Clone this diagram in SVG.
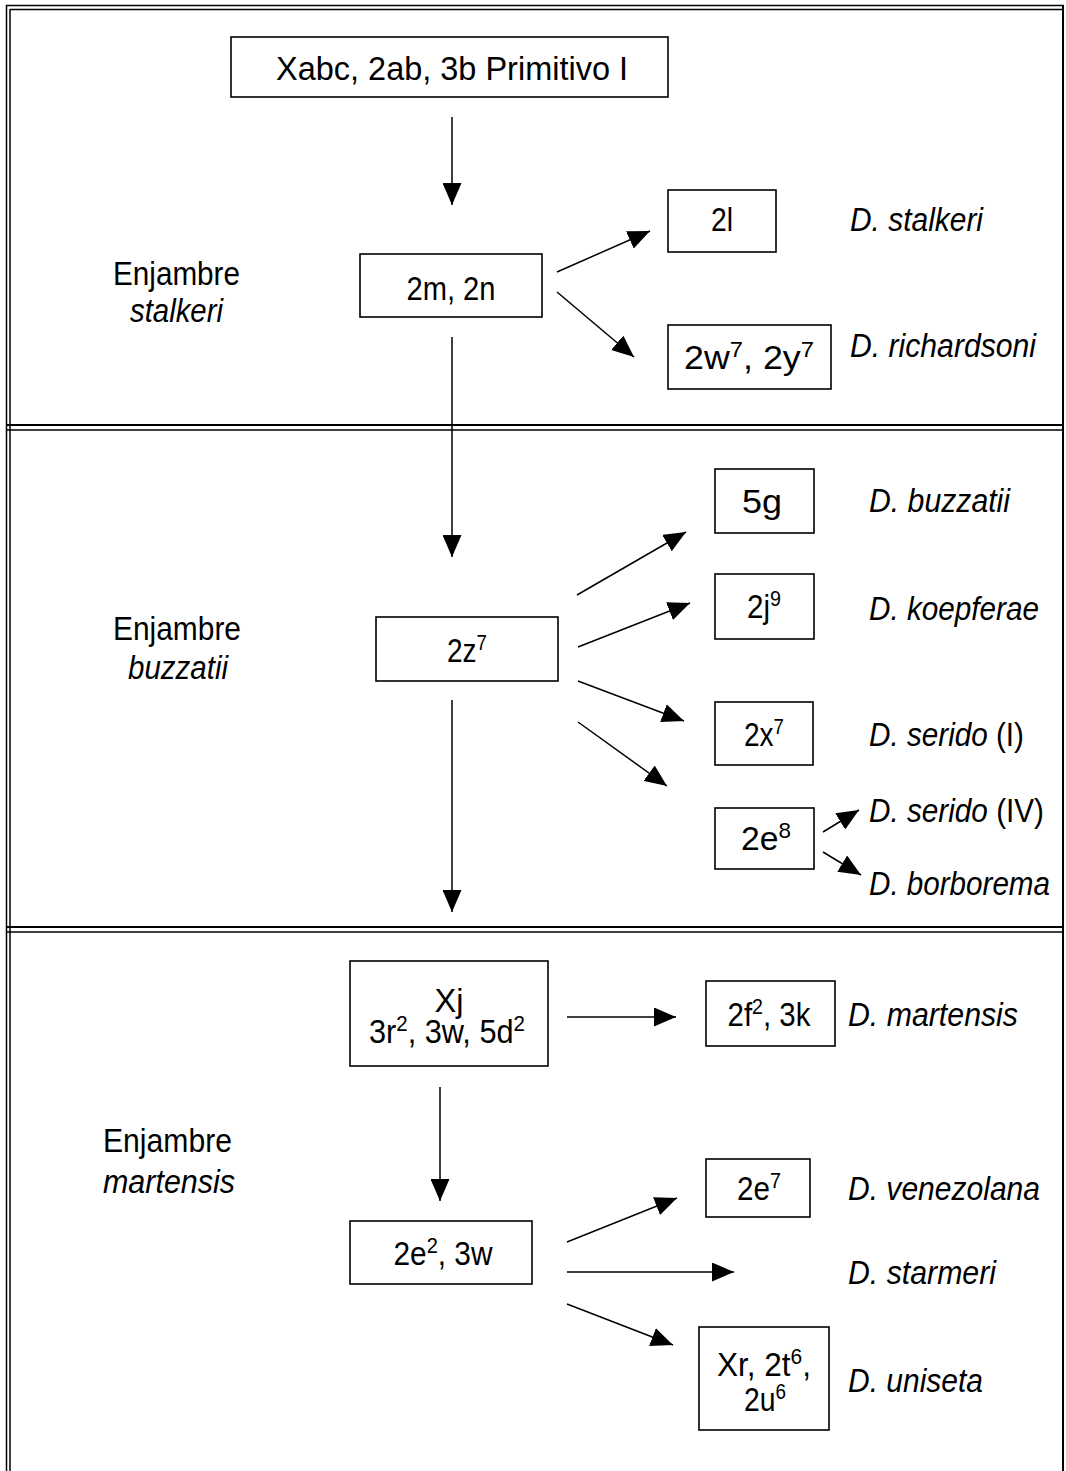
<svg xmlns="http://www.w3.org/2000/svg" width="1066" height="1471" viewBox="0 0 1066 1471">
<style>
text{font-family:"Liberation Sans",Arial,sans-serif;font-size:33px;fill:#000;}
.i{font-style:italic;}
.box{fill:#fff;stroke:#000;stroke-width:1.6;}
.c{stroke:#000;stroke-width:1.5;fill:none;}
.fr{stroke:#000;fill:none;}
.sup{font-size:22px;}
</style>
<defs>
<marker id="ah" markerUnits="userSpaceOnUse" markerWidth="22" markerHeight="19" refX="22" refY="9.5" orient="auto" viewBox="0 0 22 19">
<path d="M0,0 L22,9.5 L0,19 z" fill="#000"/>
</marker>
</defs>
<rect width="1066" height="1471" fill="#fff"/>
<g id="frame">
<line class="fr" x1="6.5" y1="5" x2="6.5" y2="1471" stroke-width="1.5"/>
<line class="fr" x1="10" y1="9" x2="10" y2="1471" stroke-width="1.5"/>
<line class="fr" x1="6" y1="5.5" x2="1064" y2="5.5" stroke-width="1.5"/>
<line class="fr" x1="10" y1="9.5" x2="1062" y2="9.5" stroke-width="1.5"/>
<line class="fr" x1="1063" y1="5" x2="1063" y2="1471" stroke-width="2"/>
<line class="fr" x1="6" y1="425" x2="1064" y2="425" stroke-width="2"/>
<line class="fr" x1="6" y1="430" x2="1064" y2="430" stroke-width="1.5"/>
<line class="fr" x1="6" y1="927" x2="1064" y2="927" stroke-width="2"/>
<line class="fr" x1="6" y1="932" x2="1064" y2="932" stroke-width="1.5"/>
</g>
<g id="connectors">
<line class="c" x1="452" y1="117" x2="452" y2="205" marker-end="url(#ah)"/>
<line class="c" x1="557" y1="272" x2="650" y2="231" marker-end="url(#ah)"/>
<line class="c" x1="557" y1="292" x2="634" y2="357" marker-end="url(#ah)"/>
<line class="c" x1="452" y1="337" x2="452" y2="557" marker-end="url(#ah)"/>
<line class="c" x1="577" y1="595" x2="686" y2="532" marker-end="url(#ah)"/>
<line class="c" x1="578" y1="647" x2="690" y2="603" marker-end="url(#ah)"/>
<line class="c" x1="578" y1="681" x2="684" y2="721" marker-end="url(#ah)"/>
<line class="c" x1="578" y1="722" x2="667" y2="786" marker-end="url(#ah)"/>
<line class="c" x1="823" y1="832" x2="859" y2="810" marker-end="url(#ah)"/>
<line class="c" x1="823" y1="852" x2="861" y2="875" marker-end="url(#ah)"/>
<line class="c" x1="452" y1="700" x2="452" y2="912" marker-end="url(#ah)"/>
<line class="c" x1="567" y1="1017" x2="676" y2="1017" marker-end="url(#ah)"/>
<line class="c" x1="440" y1="1087" x2="440" y2="1201" marker-end="url(#ah)"/>
<line class="c" x1="567" y1="1242" x2="677" y2="1198" marker-end="url(#ah)"/>
<line class="c" x1="567" y1="1272" x2="734" y2="1272" marker-end="url(#ah)"/>
<line class="c" x1="567" y1="1304" x2="673" y2="1345" marker-end="url(#ah)"/>
</g>
<g id="n-primitivo"><rect class="box" x="231" y="37" width="437" height="60"/><text x="452" y="80" text-anchor="middle" textLength="352" lengthAdjust="spacingAndGlyphs">Xabc, 2ab, 3b Primitivo I</text></g>
<g id="l-stalkeri"><text x="113" y="285" textLength="127" lengthAdjust="spacingAndGlyphs">Enjambre</text><text class="i" x="130" y="322" textLength="93" lengthAdjust="spacingAndGlyphs">stalkeri</text></g>
<g id="n-2m2n"><rect class="box" x="360" y="254" width="182" height="63"/><text x="451" y="300" text-anchor="middle" textLength="89" lengthAdjust="spacingAndGlyphs">2m, 2n</text></g>
<g id="n-2l"><rect class="box" x="668" y="190" width="108" height="62"/><text x="722" y="231" text-anchor="middle" textLength="22" lengthAdjust="spacingAndGlyphs">2l</text></g>
<g id="s-stalkeri"><text class="i" x="850" y="231" textLength="133" lengthAdjust="spacingAndGlyphs">D. stalkeri</text></g>
<g id="n-2w2y"><rect class="box" x="668" y="325" width="163" height="64"/><text x="749" y="369" text-anchor="middle" textLength="130" lengthAdjust="spacingAndGlyphs">2w<tspan class="sup" dy="-12">7</tspan><tspan dy="12">, 2y</tspan><tspan class="sup" dy="-12">7</tspan></text></g>
<g id="s-richardsoni"><text class="i" x="850" y="357" textLength="186" lengthAdjust="spacingAndGlyphs">D. richardsoni</text></g>
<g id="l-buzzatii"><text x="113" y="640" textLength="128" lengthAdjust="spacingAndGlyphs">Enjambre</text><text class="i" x="128" y="679" textLength="100" lengthAdjust="spacingAndGlyphs">buzzatii</text></g>
<g id="n-2z7"><rect class="box" x="376" y="617" width="182" height="64"/><text x="467" y="662" text-anchor="middle" textLength="40" lengthAdjust="spacingAndGlyphs">2z<tspan class="sup" dy="-12">7</tspan></text></g>
<g id="n-5g"><rect class="box" x="715" y="469" width="99" height="64"/><text x="762" y="513" text-anchor="middle" textLength="40" lengthAdjust="spacingAndGlyphs">5g</text></g>
<g id="s-buzzatii"><text class="i" x="869" y="512" textLength="141" lengthAdjust="spacingAndGlyphs">D. buzzatii</text></g>
<g id="n-2j9"><rect class="box" x="715" y="574" width="99" height="65"/><text x="764" y="618" text-anchor="middle" textLength="34" lengthAdjust="spacingAndGlyphs">2j<tspan class="sup" dy="-12">9</tspan></text></g>
<g id="s-koepferae"><text class="i" x="869" y="620" textLength="170" lengthAdjust="spacingAndGlyphs">D. koepferae</text></g>
<g id="n-2x7"><rect class="box" x="715" y="702" width="98" height="63"/><text x="764" y="746" text-anchor="middle" textLength="40" lengthAdjust="spacingAndGlyphs">2x<tspan class="sup" dy="-12">7</tspan></text></g>
<g id="s-serido1"><text class="i" x="869" y="746" textLength="155" lengthAdjust="spacingAndGlyphs">D. serido <tspan font-style="normal">(I)</tspan></text></g>
<g id="n-2e8"><rect class="box" x="715" y="808" width="99" height="61"/><text x="766" y="850" text-anchor="middle" textLength="50" lengthAdjust="spacingAndGlyphs">2e<tspan class="sup" dy="-12">8</tspan></text></g>
<g id="s-serido4"><text class="i" x="869" y="822" textLength="175" lengthAdjust="spacingAndGlyphs">D. serido <tspan font-style="normal">(IV)</tspan></text></g>
<g id="s-borborema"><text class="i" x="869" y="895" textLength="181" lengthAdjust="spacingAndGlyphs">D. borborema</text></g>
<g id="n-xj"><rect class="box" x="350" y="961" width="198" height="105"/><text x="449" y="1012" text-anchor="middle" textLength="29" lengthAdjust="spacingAndGlyphs">Xj</text><text x="447" y="1043" text-anchor="middle" textLength="156" lengthAdjust="spacingAndGlyphs">3r<tspan class="sup" dy="-12">2</tspan><tspan dy="12">, 3w, 5d</tspan><tspan class="sup" dy="-12">2</tspan></text></g>
<g id="n-2f2"><rect class="box" x="706" y="981" width="129" height="65"/><text x="769" y="1026" text-anchor="middle" textLength="83" lengthAdjust="spacingAndGlyphs">2f<tspan class="sup" dy="-12">2</tspan><tspan dy="12">, 3k</tspan></text></g>
<g id="s-martensis"><text class="i" x="848" y="1026" textLength="170" lengthAdjust="spacingAndGlyphs">D. martensis</text></g>
<g id="l-martensis"><text x="103" y="1152" textLength="129" lengthAdjust="spacingAndGlyphs">Enjambre</text><text class="i" x="103" y="1193" textLength="132" lengthAdjust="spacingAndGlyphs">martensis</text></g>
<g id="n-2e2"><rect class="box" x="350" y="1221" width="182" height="63"/><text x="443" y="1265" text-anchor="middle" textLength="99" lengthAdjust="spacingAndGlyphs">2e<tspan class="sup" dy="-12">2</tspan><tspan dy="12">, 3w</tspan></text></g>
<g id="n-2e7"><rect class="box" x="706" y="1159" width="104" height="58"/><text x="759" y="1200" text-anchor="middle" textLength="44" lengthAdjust="spacingAndGlyphs">2e<tspan class="sup" dy="-12">7</tspan></text></g>
<g id="s-venezolana"><text class="i" x="848" y="1200" textLength="192" lengthAdjust="spacingAndGlyphs">D. venezolana</text></g>
<g id="s-starmeri"><text class="i" x="848" y="1284" textLength="148" lengthAdjust="spacingAndGlyphs">D. starmeri</text></g>
<g id="n-xr"><rect class="box" x="699" y="1327" width="130" height="103"/><text x="764" y="1376" text-anchor="middle" textLength="94" lengthAdjust="spacingAndGlyphs">Xr, 2t<tspan class="sup" dy="-12">6</tspan><tspan dy="12">,</tspan></text><text x="765" y="1411" text-anchor="middle" textLength="42" lengthAdjust="spacingAndGlyphs">2u<tspan class="sup" dy="-12">6</tspan></text></g>
<g id="s-uniseta"><text class="i" x="848" y="1392" textLength="135" lengthAdjust="spacingAndGlyphs">D. uniseta</text></g>
</svg>
